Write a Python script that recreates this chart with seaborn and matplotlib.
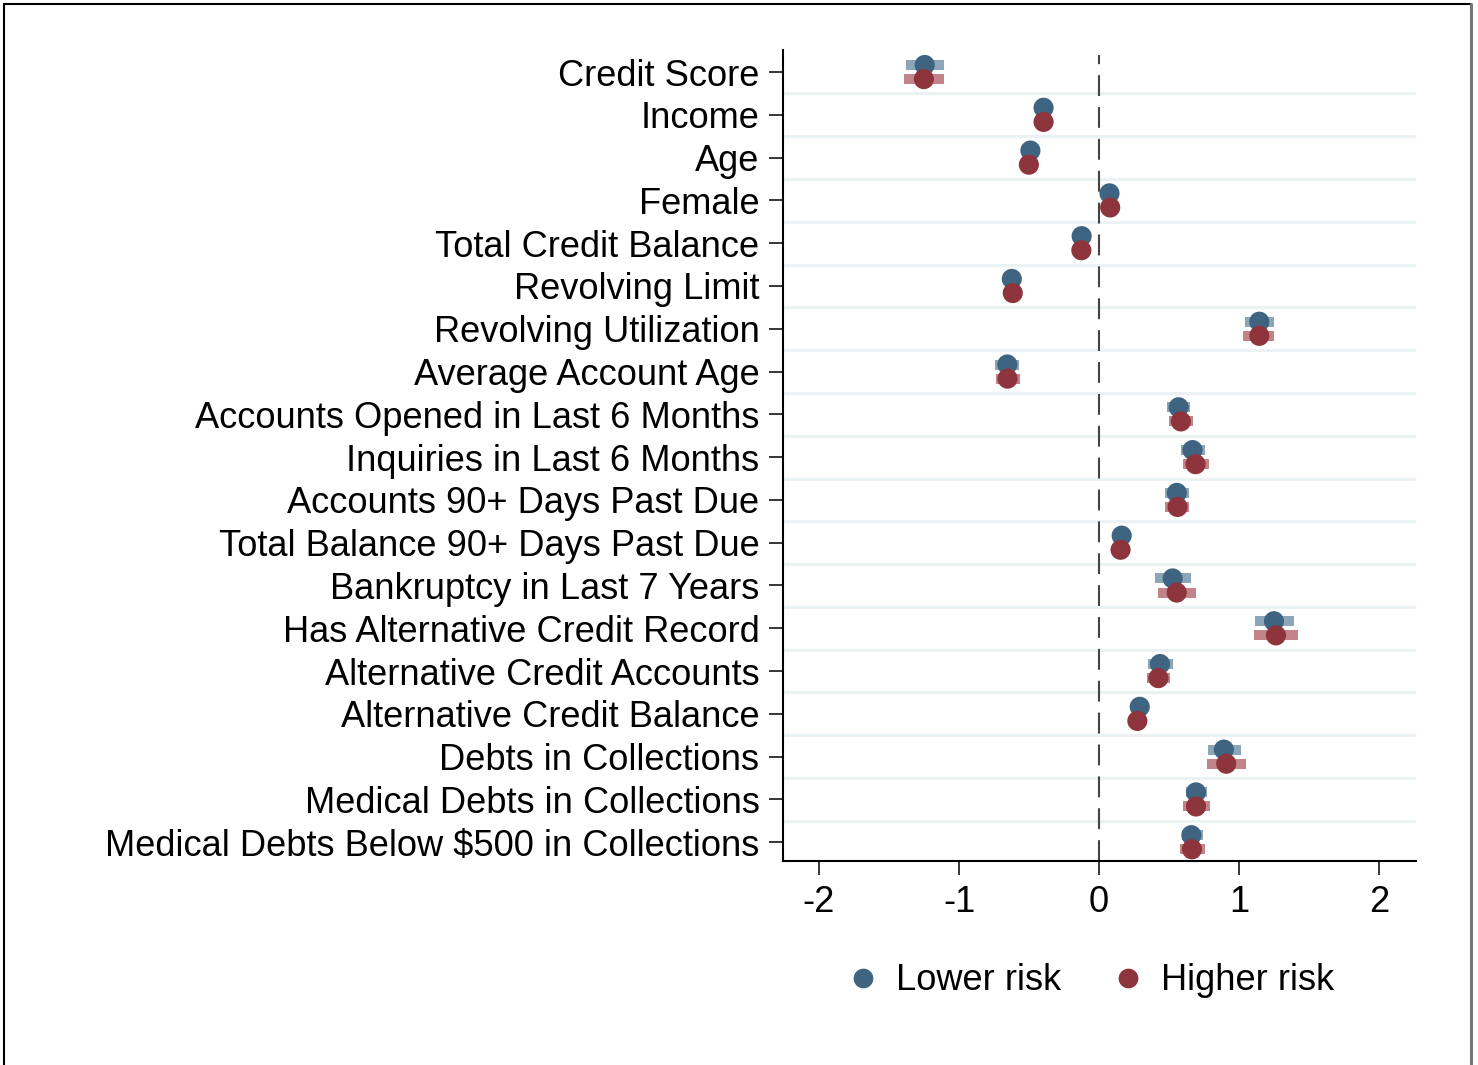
import numpy as np
import pandas as pd
import seaborn as sns
import matplotlib
matplotlib.use("Agg")
import matplotlib.pyplot as plt
from matplotlib.lines import Line2D

labels = ["Credit Score", "Income", "Age", "Female", "Total Credit Balance",
          "Revolving Limit", "Revolving Utilization", "Average Account Age",
          "Accounts Opened in Last 6 Months", "Inquiries in Last 6 Months",
          "Accounts 90+ Days Past Due", "Total Balance 90+ Days Past Due",
          "Bankruptcy in Last 7 Years", "Has Alternative Credit Record",
          "Alternative Credit Accounts", "Alternative Credit Balance",
          "Debts in Collections", "Medical Debts in Collections",
          "Medical Debts Below $500 in Collections"]

lower_est = [-1.245, -0.396, -0.49, 0.075, -0.124, -0.623, 1.145, -0.655, 0.569, 0.668,
             0.556, 0.162, 0.526, 1.25, 0.436, 0.291, 0.892, 0.693, 0.66]
lower_lo = [-1.38, -0.42, -0.51, 0.055, -0.14, -0.64, 1.045, -0.74, 0.487, 0.584,
            0.475, 0.145, 0.40, 1.111, 0.35, 0.27, 0.778, 0.619, 0.59]
lower_hi = [-1.107, -0.375, -0.47, 0.095, -0.11, -0.605, 1.25, -0.57, 0.649, 0.76,
            0.641, 0.18, 0.657, 1.393, 0.526, 0.31, 1.012, 0.775, 0.746]

higher_est = [-1.251, -0.396, -0.501, 0.08, -0.126, -0.616, 1.145, -0.653, 0.585, 0.69,
              0.561, 0.154, 0.555, 1.264, 0.424, 0.274, 0.909, 0.693, 0.664]
higher_lo = [-1.39, -0.42, -0.52, 0.06, -0.145, -0.635, 1.03, -0.735, 0.5, 0.6,
             0.475, 0.135, 0.418, 1.106, 0.346, 0.255, 0.769, 0.6, 0.58]
higher_hi = [-1.107, -0.375, -0.48, 0.10, -0.107, -0.597, 1.25, -0.565, 0.673, 0.785,
             0.645, 0.173, 0.696, 1.419, 0.509, 0.295, 1.05, 0.79, 0.757]

groups = ["Lower risk", "Higher risk"]
dot_colors = {"Lower risk": "#3E6481", "Higher risk": "#8E343C"}
bar_colors = {"Lower risk": "#8CA6B8", "Higher risk": "#C38489"}
offsets = {"Lower risk": -0.165, "Higher risk": 0.165}

n = len(labels)
rows = []
for g, est, lo, hi in [("Lower risk", lower_est, lower_lo, lower_hi),
                       ("Higher risk", higher_est, higher_lo, higher_hi)]:
    for i in range(n):
        rows.append({"var": labels[i], "group": g, "est": est[i], "lo": lo[i],
                     "hi": hi[i], "ypos": i + offsets[g]})
df = pd.DataFrame(rows)

sns.set_style("ticks")
plt.rcParams["font.family"] = ["Liberation Sans", "DejaVu Sans"]
plt.rcParams["text.color"] = "black"
plt.rcParams["xtick.color"] = "black"
plt.rcParams["ytick.color"] = "black"

fig = plt.figure(figsize=(14.78, 10.65), dpi=100)
ax = fig.add_axes([0.5298, 0.1915, 0.9580 - 0.5298, 0.953 - 0.1915])

# gridlines between categories
for b in np.arange(0.5, n - 1, 1.0):
    ax.axhline(b, color="#EAF2F3", lw=2.2, zorder=0)

ax.axvline(0, ymin=0, ymax=0.994, color="#444444", lw=1.5,
           linestyle=(0, (10, 5.3)), zorder=1)

# confidence bars
for g in groups:
    sub = df[df["group"] == g]
    ax.hlines(sub["ypos"], sub["lo"], sub["hi"], colors=bar_colors[g],
              lw=7.2, zorder=2, capstyle="butt")

sns.scatterplot(data=df, x="est", y="ypos", hue="group", hue_order=groups,
                palette=dot_colors, s=210, linewidth=0, alpha=1, legend=False,
                ax=ax, zorder=3)

ax.set_xlim(-2.257, 2.264)
ax.set_ylim(18.44, -0.514)
ax.set_yticks(range(n))
ax.set_yticklabels(labels)
ax.set_xticks([-2, -1, 0, 1, 2])
ax.set_xticklabels(["-2", "-1", "0", "1", "2"])
ax.set_xlabel("")
ax.set_ylabel("")
ax.tick_params(axis="both", labelsize=26.1, length=10, width=1.1, pad=7,
               color="black", labelcolor="black")
for side in ["top", "right"]:
    ax.spines[side].set_visible(False)
for side in ["left", "bottom"]:
    ax.spines[side].set_linewidth(1.5)
    ax.spines[side].set_color("black")

handles = [Line2D([], [], marker="o", linestyle="", markersize=14.2,
                  markerfacecolor=dot_colors[g], markeredgewidth=0, label=g)
           for g in groups]
fig.legend(handles=handles, loc="center", bbox_to_anchor=(0.737, 0.079), ncol=2,
           frameon=False, fontsize=26.1, handletextpad=0.4, columnspacing=1.35,
           handlelength=1.0)

# figure border
fig.add_artist(Line2D([0.0027, 0.9953], [0.9962, 0.9962], color="black", lw=1.5))
fig.add_artist(Line2D([0.0027, 0.0027], [0.0, 0.9962], color="black", lw=1.5))
fig.add_artist(Line2D([0.9953, 0.9953], [0.0, 0.9962], color="#777777", lw=2.2))

fig.savefig("out.png", dpi=100)
